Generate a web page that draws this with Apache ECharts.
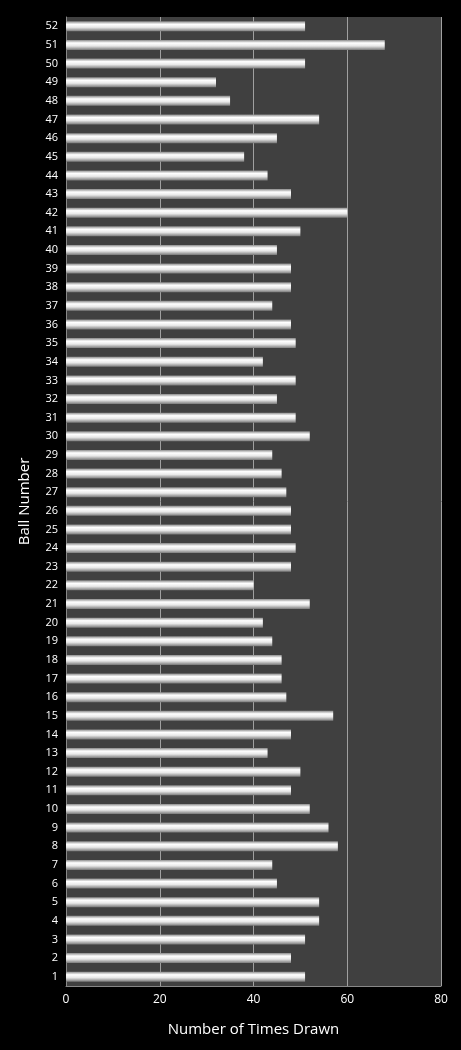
<!DOCTYPE html>
<html><head><meta charset="utf-8">
<script src="https://cdn.jsdelivr.net/npm/echarts@6/dist/echarts.min.js"></script>
<style>html,body{margin:0;background:#000}#c{width:461px;height:1050px}</style>
</head><body><div id="c"></div>
<script>
const categories = Array.from({length:52},(_,i)=>String(i+1));
const timesDrawn = [51,48,51,54,54,45,44,58,56,52,48,50,43,48,57,47,46,46,44,42,52,40,48,49,48,48,47,46,44,52,49,45,49,42,49,48,44,48,48,45,50,60,48,43,38,45,54,35,32,51,68,51];
const xTicks = [0,20,40,60,80];
const chart = echarts.init(document.getElementById('c'));
chart.setOption({
  backgroundColor:'#000',
  grid:{left:66,right:20,top:17,bottom:64,backgroundColor:'#404040',show:true,borderWidth:0},
  xAxis:{type:'value',min:xTicks[0],max:xTicks[xTicks.length-1],interval:20,
    name:'Number of Times Drawn',nameLocation:'middle',nameGap:36,
    nameTextStyle:{color:'#fff',fontSize:15,fontFamily:'Open Sans'},
    axisLabel:{color:'#fff',fontSize:12,fontFamily:'Open Sans'},
    splitLine:{lineStyle:{color:'#a0a0a0',width:1}},
    axisLine:{show:true,lineStyle:{color:'#888'}},axisTick:{show:false}},
  yAxis:{type:'category',data:categories,
    name:'Ball Number',nameLocation:'middle',nameGap:34,
    nameTextStyle:{color:'#fff',fontSize:15,fontFamily:'Open Sans'},
    axisLabel:{color:'#fff',fontSize:11,fontFamily:'Open Sans',interval:0},
    axisLine:{show:true,lineStyle:{color:'#888'}},axisTick:{show:false}},
  series:[{type:'bar',data:timesDrawn,barWidth:10,
    itemStyle:{color:new echarts.graphic.LinearGradient(0,0,0,1,[
      {offset:0,color:'#8a8a8a'},{offset:0.3,color:'#ffffff'},{offset:0.6,color:'#e8e8e8'},{offset:1,color:'#7a7a7a'}])}}]
});
</script></body></html>
